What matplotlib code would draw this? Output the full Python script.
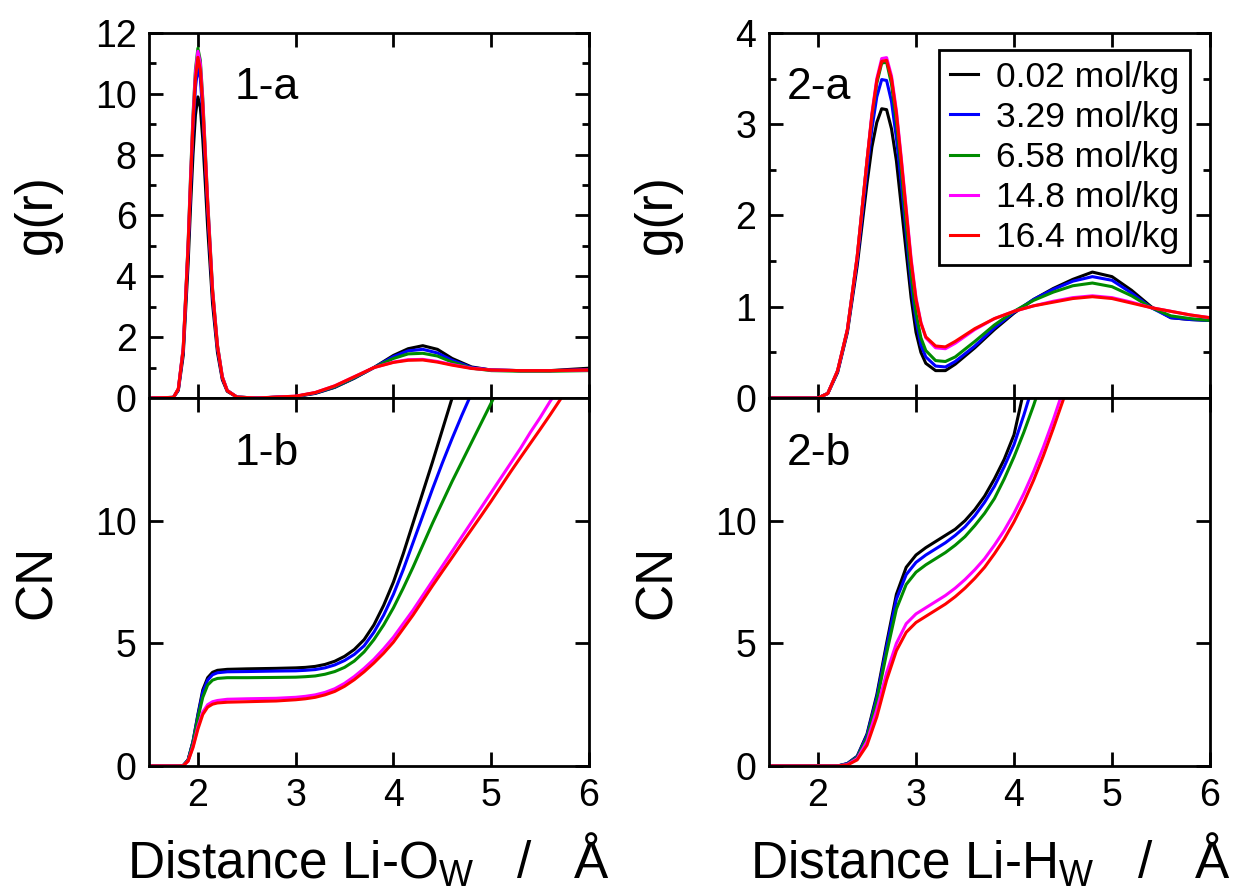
import numpy as np
import matplotlib
matplotlib.use("Agg")
import matplotlib.pyplot as plt
from matplotlib.ticker import MultipleLocator

# concentrations / legend
labels = ["0.02 mol/kg", "3.29 mol/kg", "6.58 mol/kg", "14.8 mol/kg", "16.4 mol/kg"]
colors = ["#000000", "#0000ff", "#008b00", "#ff00ff", "#ff0000"]

# 1-a : g(r) Li-Ow
r_1a = [1.5, 1.75, 1.8, 1.85, 1.9, 1.925, 1.95, 1.975, 2.0, 2.025, 2.05, 2.075, 2.1, 2.15,
        2.2, 2.25, 2.3, 2.4, 2.6, 3.0, 3.2, 3.4, 3.6, 3.8, 4.0, 4.15, 4.3, 4.45, 4.6, 4.8,
        5.0, 5.3, 5.6, 6.0]
g_1a_k = [0, 0.02, 0.25, 1.4, 4.4, 6.3, 8.0, 9.3, 9.9, 9.55, 8.5, 7.1, 5.6, 3.1,
          1.5, 0.6, 0.22, 0.03, 0.0, 0.05, 0.15, 0.35, 0.65, 1.0, 1.4, 1.62, 1.72, 1.6, 1.3, 1.02,
          0.92, 0.9, 0.9, 0.98]
g_1a_b = [0, 0.02, 0.28, 1.55, 4.9, 6.9, 8.8, 10.2, 10.9, 10.5, 9.35, 7.8, 6.2, 3.4,
          1.65, 0.65, 0.24, 0.03, 0.0, 0.05, 0.16, 0.36, 0.66, 1.0, 1.36, 1.55, 1.6, 1.48, 1.24, 1.0,
          0.92, 0.9, 0.9, 0.92]
g_1a_g = [0, 0.02, 0.3, 1.65, 5.1, 7.3, 9.3, 10.8, 11.5, 11.1, 9.85, 8.2, 6.5, 3.6,
          1.75, 0.7, 0.25, 0.03, 0.0, 0.05, 0.17, 0.37, 0.67, 1.0, 1.3, 1.45, 1.47, 1.38, 1.18, 0.98,
          0.9, 0.88, 0.88, 0.9]
g_1a_m = [0, 0.02, 0.3, 1.65, 5.05, 7.2, 9.2, 10.7, 11.4, 11.0, 9.75, 8.1, 6.45, 3.55,
          1.72, 0.7, 0.25, 0.03, 0.0, 0.06, 0.18, 0.4, 0.7, 1.0, 1.18, 1.26, 1.27, 1.2, 1.1, 0.98,
          0.92, 0.9, 0.9, 0.92]
g_1a_r = [0, 0.02, 0.3, 1.6, 5.0, 7.1, 9.05, 10.5, 11.2, 10.8, 9.6, 8.0, 6.35, 3.5,
          1.7, 0.68, 0.24, 0.03, 0.0, 0.06, 0.18, 0.4, 0.7, 1.0, 1.17, 1.24, 1.25, 1.18, 1.08, 0.97,
          0.92, 0.9, 0.9, 0.92]

# 1-b : CN Li-Ow
r_1b = [1.5, 1.8, 1.85, 1.9, 1.95, 2.0, 2.05, 2.1, 2.15, 2.2, 2.3, 2.5, 2.8,
        3.0, 3.1, 3.2, 3.3, 3.4, 3.5, 3.6, 3.7, 3.8, 3.9, 4.0, 4.1, 4.2, 4.3, 4.4,
        4.5, 4.6, 4.7, 4.8, 4.9, 5.0, 5.1, 5.2, 5.3, 5.4, 5.5, 5.6, 5.7, 5.8]
cn_1b_k = [0, 0, 0.02, 0.25, 1.0, 2.1, 3.1, 3.6, 3.82, 3.9, 3.94, 3.96, 3.98,
           4.0, 4.02, 4.06, 4.14, 4.27, 4.47, 4.75, 5.15, 5.75, 6.55, 7.5, 8.65, 9.9, 11.15, 12.4,
           13.7, 15.0, 16.3, 17.6, 18.9, 20.2, 21.5, 22.8, 24.1, 25.4, 26.7, 28.0, 29.3, 30.6]
cn_1b_b = [0, 0, 0.02, 0.25, 1.0, 2.05, 3.0, 3.5, 3.72, 3.8, 3.84, 3.85, 3.87,
           3.88, 3.9, 3.93, 4.0, 4.12, 4.3, 4.55, 4.9, 5.45, 6.15, 7.0, 8.0, 9.1, 10.2, 11.3,
           12.35, 13.35, 14.3, 15.2, 16.1, 17.0, 17.9, 18.8, 19.7, 20.6, 21.5, 22.4, 23.3, 24.2]
cn_1b_g = [0, 0, 0.02, 0.24, 0.95, 1.95, 2.8, 3.3, 3.5, 3.57, 3.6, 3.6, 3.61,
           3.62, 3.64, 3.67, 3.74, 3.85, 4.02, 4.28, 4.65, 5.15, 5.75, 6.45, 7.25, 8.1, 9.0, 9.9,
           10.75, 11.6, 12.4, 13.2, 14.0, 14.8, 15.6, 16.4, 17.2, 18.0, 18.8, 19.6, 20.4, 21.2]
cn_1b_m = [0, 0, 0.01, 0.2, 0.8, 1.6, 2.2, 2.5, 2.62, 2.67, 2.72, 2.74, 2.76,
           2.8, 2.84, 2.9, 3.0, 3.15, 3.37, 3.65, 3.98, 4.35, 4.78, 5.25, 5.8, 6.35, 6.95, 7.55,
           8.15, 8.75, 9.35, 9.95, 10.55, 11.15, 11.75, 12.35, 12.95, 13.6, 14.2, 14.85, 15.45, 16.05]
cn_1b_r = [0, 0, 0.01, 0.2, 0.75, 1.5, 2.1, 2.4, 2.52, 2.57, 2.6, 2.62, 2.65,
           2.7, 2.74, 2.8, 2.9, 3.04, 3.25, 3.52, 3.84, 4.2, 4.6, 5.05, 5.6, 6.15, 6.75, 7.35,
           7.93, 8.5, 9.08, 9.65, 10.22, 10.8, 11.4, 12.0, 12.58, 13.15, 13.72, 14.3, 14.9, 15.5]

# 2-a : g(r) Li-Hw
r_2a = [1.5, 2.0, 2.1, 2.2, 2.3, 2.4, 2.5, 2.55, 2.6, 2.65, 2.7, 2.75, 2.8, 2.85, 2.9,
        2.95, 3.0, 3.05, 3.1, 3.2, 3.3, 3.4, 3.6, 3.8, 4.0, 4.2, 4.4, 4.6, 4.8, 5.0,
        5.2, 5.4, 5.6, 5.8, 6.0]
g_2a_k = [0, 0, 0.05, 0.28, 0.72, 1.45, 2.35, 2.75, 3.02, 3.17, 3.16, 2.95, 2.6, 2.1, 1.6,
          1.1, 0.72, 0.5, 0.38, 0.3, 0.3, 0.37, 0.55, 0.75, 0.93, 1.08, 1.2, 1.3, 1.38, 1.33,
          1.18, 1.0, 0.88, 0.86, 0.85]
g_2a_b = [0, 0, 0.05, 0.29, 0.74, 1.5, 2.5, 2.95, 3.3, 3.49, 3.48, 3.25, 2.85, 2.35, 1.8,
          1.25, 0.85, 0.58, 0.45, 0.35, 0.34, 0.4, 0.57, 0.77, 0.94, 1.08, 1.19, 1.28, 1.33, 1.29,
          1.15, 0.99, 0.88, 0.86, 0.85]
g_2a_g = [0, 0, 0.05, 0.3, 0.75, 1.55, 2.6, 3.08, 3.45, 3.67, 3.68, 3.44, 3.02, 2.5, 1.9,
          1.35, 0.93, 0.66, 0.52, 0.41, 0.4, 0.45, 0.62, 0.8, 0.95, 1.07, 1.16, 1.23, 1.26, 1.22,
          1.12, 0.99, 0.9, 0.87, 0.85]
g_2a_m = [0, 0, 0.05, 0.3, 0.75, 1.55, 2.6, 3.12, 3.5, 3.72, 3.73, 3.53, 3.15, 2.63, 2.08,
          1.53, 1.1, 0.83, 0.66, 0.55, 0.54, 0.6, 0.75, 0.87, 0.95, 1.01, 1.06, 1.1, 1.12, 1.1,
          1.05, 0.99, 0.95, 0.91, 0.88]
g_2a_r = [0, 0, 0.05, 0.3, 0.75, 1.55, 2.6, 3.1, 3.48, 3.69, 3.7, 3.5, 3.12, 2.6, 2.05,
          1.5, 1.08, 0.82, 0.67, 0.57, 0.56, 0.62, 0.76, 0.87, 0.95, 1.01, 1.05, 1.09, 1.11, 1.09,
          1.04, 0.99, 0.95, 0.91, 0.88]

# 2-b : CN Li-Hw
r_2b = [1.5, 2.2, 2.3, 2.4, 2.5, 2.6, 2.7, 2.8, 2.9, 3.0, 3.1, 3.2, 3.3, 3.4, 3.5,
        3.6, 3.7, 3.8, 3.9, 4.0, 4.1, 4.2, 4.3, 4.4, 4.5, 4.6]
cn_2b_k = [0, 0, 0.1, 0.4, 1.3, 2.9, 5.0, 7.0, 8.1, 8.6, 8.9, 9.15, 9.4, 9.65, 10.0,
           10.45, 11.0, 11.7, 12.5, 13.5, 15.3, 17.0, 18.7, 20.4, 22.1, 23.8]
cn_2b_b = [0, 0, 0.1, 0.38, 1.25, 2.8, 4.85, 6.8, 7.8, 8.3, 8.6, 8.85, 9.1, 9.4, 9.75,
           10.2, 10.75, 11.4, 12.2, 13.1, 14.3, 15.6, 17.0, 18.4, 19.8, 21.2]
cn_2b_g = [0, 0, 0.08, 0.35, 1.15, 2.65, 4.6, 6.4, 7.4, 7.9, 8.2, 8.45, 8.7, 9.0, 9.35,
           9.8, 10.3, 10.9, 11.7, 12.6, 13.6, 14.7, 15.9, 17.1, 18.3, 19.5]
cn_2b_m = [0, 0, 0.06, 0.3, 1.0, 2.3, 3.8, 5.0, 5.8, 6.2, 6.45, 6.7, 6.95, 7.25, 7.6,
           8.0, 8.45, 9.0, 9.6, 10.3, 11.1, 12.0, 13.0, 14.1, 15.3, 16.5]
cn_2b_r = [0, 0, 0.04, 0.25, 0.85, 2.0, 3.5, 4.7, 5.45, 5.85, 6.1, 6.35, 6.6, 6.9, 7.25,
           7.65, 8.1, 8.65, 9.25, 9.95, 10.75, 11.65, 12.65, 13.75, 14.9, 16.1]

TICK_FONT = ["Liberation Sans Narrow", "Liberation Sans", "DejaVu Sans"]
TEXT_FONT = ["Liberation Sans", "DejaVu Sans"]

W, H = 1234, 893
fig = plt.figure(figsize=(W / 100, H / 100), dpi=100)


def px_axes(x0, y0, x1, y1):
    # pixel box (from top-left) -> figure fraction axes
    return fig.add_axes([x0 / W, 1 - y1 / H, (x1 - x0) / W, (y1 - y0) / H])


def style(ax, ylim, major, minor=None, xlabels=True):
    ax.set_xlim(1.5, 6)
    ax.set_ylim(*ylim)
    ax.xaxis.set_major_locator(MultipleLocator(1))
    ax.yaxis.set_major_locator(MultipleLocator(major))
    if minor:
        ax.yaxis.set_minor_locator(MultipleLocator(minor))
    ax.tick_params(which="both", direction="in", top=True, right=True, width=2)
    ax.tick_params(which="major", length=10, pad=9)
    ax.tick_params(which="minor", length=5)
    for s in ax.spines.values():
        s.set_linewidth(2)
    for t in ax.get_xticklabels() + ax.get_yticklabels():
        t.set_family(TICK_FONT)
        t.set_fontsize(27)
    if not xlabels:
        ax.tick_params(labelbottom=False)


def draw(ax, x, series):
    for y, c, lab in zip(series, colors, labels):
        ax.plot(x, y, color=c, lw=2.2, label=lab, solid_joinstyle="round")


ax1a = px_axes(149, 33, 589, 398)
ax1b = px_axes(149, 398, 589, 766)
ax2a = px_axes(769, 33, 1210, 398)
ax2b = px_axes(769, 398, 1210, 766)

draw(ax1a, r_1a, [g_1a_k, g_1a_b, g_1a_g, g_1a_m, g_1a_r])
draw(ax1b, r_1b, [cn_1b_k, cn_1b_b, cn_1b_g, cn_1b_m, cn_1b_r])
draw(ax2a, r_2a, [g_2a_k, g_2a_b, g_2a_g, g_2a_m, g_2a_r])
draw(ax2b, r_2b, [cn_2b_k, cn_2b_b, cn_2b_g, cn_2b_m, cn_2b_r])

style(ax1a, (0, 12), 2, 1, xlabels=False)
style(ax1b, (0, 15), 5)
style(ax2a, (0, 4), 1, 0.5, xlabels=False)
style(ax2b, (0, 15), 5)
for ax in (ax1b, ax2b):
    ax.set_yticks([0, 5, 10])

# panel tags
for ax, tag, x in [(ax1a, "1-a", 0.195), (ax1b, "1-b", 0.195), (ax2a, "2-a", 0.041), (ax2b, "2-b", 0.041)]:
    ax.text(x, 0.85, tag, transform=ax.transAxes, fontsize=32, family=TEXT_FONT,
            ha="left", va="center")

# axis labels
for x in (37, 657):
    fig.text(x / W, 1 - 214 / H, "g(r)", rotation=90, fontsize=37, family=TICK_FONT,
             ha="center", va="center")
    fig.text(x / W, 1 - 582 / H, "CN", rotation=90, fontsize=37, family=TICK_FONT,
             ha="center", va="center")
fig.text(369 / W, 1 - 860 / H, r"Distance Li-O$_{\mathregular{W}}$   /   Å", fontsize=37,
         family=TICK_FONT, ha="center", va="center")
fig.text(990 / W, 1 - 860 / H, r"Distance Li-H$_{\mathregular{W}}$   /   Å", fontsize=37,
         family=TICK_FONT, ha="center", va="center")

leg = ax2a.legend(loc="upper right", bbox_to_anchor=(0.955, 0.953), borderaxespad=0,
                  prop={"family": TEXT_FONT, "size": 25.5}, handlelength=0.8,
                  handletextpad=0.5, labelspacing=0.2, borderpad=0.3,
                  fancybox=False, framealpha=1)
leg.get_frame().set_edgecolor("black")
leg.get_frame().set_linewidth(2)

fig.savefig("out.png", dpi=100)
